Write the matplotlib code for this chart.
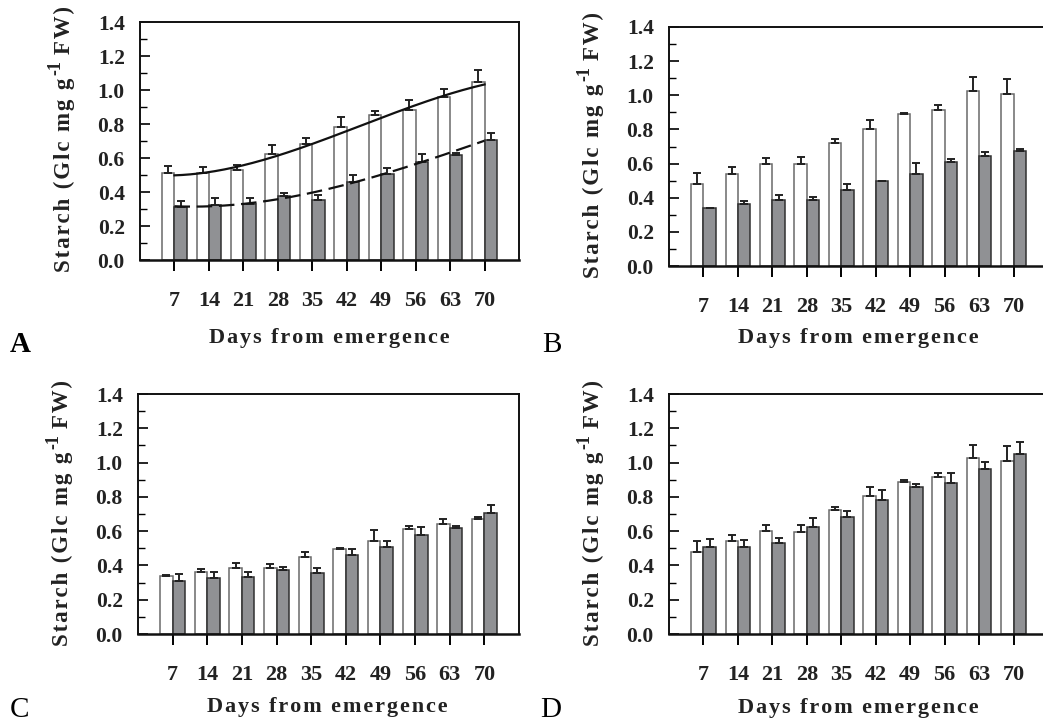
import numpy as np
import matplotlib.pyplot as plt
from matplotlib.ticker import MultipleLocator

FAM = ['Liberation Serif', 'DejaVu Serif']
plt.rcParams['font.family'] = FAM

days = [7, 14, 21, 28, 35, 42, 49, 56, 63, 70]

# starch means and SE for the four series
s1 = [0.51, 0.51, 0.53, 0.625, 0.685, 0.78, 0.855, 0.88, 0.96, 1.05]
s1_err = [0.045, 0.04, 0.03, 0.05, 0.03, 0.06, 0.022, 0.06, 0.045, 0.07]
s2 = [0.31, 0.325, 0.33, 0.375, 0.355, 0.46, 0.505, 0.578, 0.617, 0.705]
s2_err = [0.04, 0.038, 0.033, 0.018, 0.03, 0.038, 0.038, 0.045, 0.015, 0.045]
s3 = [0.48, 0.54, 0.60, 0.597, 0.723, 0.805, 0.889, 0.914, 1.025, 1.01]
s3_err = [0.062, 0.04, 0.035, 0.04, 0.02, 0.05, 0.01, 0.027, 0.08, 0.088]
s4 = [0.337, 0.362, 0.386, 0.387, 0.448, 0.497, 0.541, 0.611, 0.642, 0.672]
s4_err = [0.005, 0.02, 0.031, 0.02, 0.033, 0.003, 0.064, 0.018, 0.027, 0.011]

panels = [
    ('A', s1, s1_err, s2, s2_err, True),
    ('B', s3, s3_err, s4, s4_err, False),
    ('C', s4, s4_err, s2, s2_err, False),
    ('D', s3, s3_err, s1, s1_err, False),
]

W, H = 1043, 722
fig = plt.figure(figsize=(W / 100, H / 100), dpi=100)
renderer = fig.canvas.get_renderer()

# axes boxes in pixels: left, top, right, bottom
boxes = [(140, 22, 519, 260), (669, 27, 1048, 266),
         (138, 394, 519, 634), (669, 394, 1048, 634)]
xlab_y = [338, 338, 707, 708]
letter_pos = [(10, 352, 'bold'), (542, 352, 'normal'),
              (10, 717, 'normal'), (540, 717, 'normal')]

HS = '\u200a'


def vtext(x, y, s, size):
    # vertical text reading upward, baseline at pixel x, starting at pixel y
    t = fig.text(x / W, 1 - y / H, s, rotation=90, rotation_mode='anchor',
                 ha='left', va='baseline', fontsize=size, fontweight='bold',
                 color='#222222')
    return t.get_window_extent(renderer).height


def ylabel(x, y):
    h1 = vtext(x, y, HS.join('Starch (Glc mg g'), 16.5)
    h2 = vtext(x - 10, y - h1 - 3, '-1', 13)
    vtext(x, y - h1 - h2 - 9, HS.join('FW)'), 16.5)


bw = 0.36
gray = '#909194'
xs = np.arange(len(days))

for (name, w, we, g, ge, fit), (l, t, r, b), xly, (lx, ly, lw) in zip(
        panels, boxes, xlab_y, letter_pos):
    ax = fig.add_axes([l / W, 1 - b / H, (r - l) / W, (b - t) / H])
    ax.bar(xs - bw / 2, w, bw, color='white', edgecolor='#6a6a6a', linewidth=1.1, zorder=2)
    ax.bar(xs + bw / 2, g, bw, color=gray, edgecolor='#303030', linewidth=1.1, zorder=2)
    ax.errorbar(xs - bw / 2, w, yerr=[np.zeros(len(w)), we], fmt='none',
                ecolor='#222222', elinewidth=1.4, capsize=3, capthick=1.4, zorder=3)
    ax.errorbar(xs + bw / 2, g, yerr=[np.zeros(len(g)), ge], fmt='none',
                ecolor='#222222', elinewidth=1.4, capsize=3, capthick=1.4, zorder=3)
    if fit:
        # cubic trend lines through both series
        d = np.array(days, dtype=float)
        dd = np.linspace(7, 70, 200)
        xx = (dd - 7) / 7
        ax.plot(xx, np.polyval(np.polyfit(d, w, 3), dd), color='#111111',
                lw=1.6, zorder=4)
        ax.plot(xx, np.polyval(np.polyfit(d, g, 3), dd), color='#111111',
                lw=1.6, dashes=(7, 3), zorder=4)

    ax.set_xlim(-1, 10)
    ax.set_ylim(0, 1.4)
    ax.yaxis.set_minor_locator(MultipleLocator(0.1))
    ax.set_yticks(np.arange(0, 1.41, 0.2))
    ax.set_yticklabels([f'{v:.1f}' for v in np.arange(0, 1.41, 0.2)],
                       fontsize=15.5, fontweight='bold', color='#222222')
    ax.set_xticks(xs)
    ax.set_xticklabels([str(d) for d in days], fontsize=16, fontweight='bold',
                       color='#222222')
    ax.tick_params(axis='y', which='major', direction='in', length=7, width=1.2, pad=11)
    ax.tick_params(axis='y', which='minor', direction='in', length=5, width=1.0)
    ax.tick_params(axis='x', direction='out', length=8, width=1.4, pad=14)
    for sp in ax.spines.values():
        sp.set_linewidth(1.4)
        sp.set_color('#111111')
    ax.spines['bottom'].set_linewidth(1.8)

    ylabel(l - 70, b + 12)
    fig.text((l + 189.5) / W, 1 - xly / H, HS.join('Days from emergence'),
             ha='center', va='center', fontsize=16, fontweight='bold',
             color='#222222')
    fig.text(lx / W, 1 - ly / H, name, fontsize=21, fontweight=lw,
             ha='left', va='baseline')

fig.savefig('out.png', dpi=100)
